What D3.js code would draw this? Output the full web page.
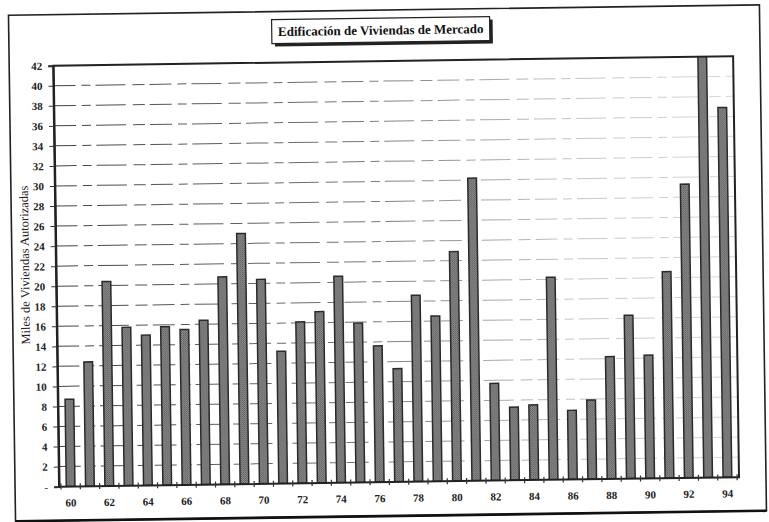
<!DOCTYPE html>
<html>
<head>
<meta charset="utf-8">
<script src="https://cdn.jsdelivr.net/npm/d3@7"></script>
<style>
  html, body { margin: 0; padding: 0; background: #fff; }
  svg { display: block; }
</style>
</head>
<body>
<svg id="chart" width="769" height="522"></svg>
<script>
// Años (dos dígitos) y miles de viviendas autorizadas
const years = ["60","61","62","63","64","65","66","67","68","69",
               "70","71","72","73","74","75","76","77","78","79",
               "80","81","82","83","84","85","86","87","88","89",
               "90","91","92","93","94"];
const viviendas = [8.7, 12.4, 20.4, 15.8, 15.0, 15.8, 15.5, 16.4, 20.7, 25.0,
                   20.4, 13.2, 16.1, 17.1, 20.6, 15.9, 13.6, 11.3, 18.6, 16.5,
                   22.9, 30.2, 9.7, 7.3, 7.5, 20.2, 6.9, 7.9, 12.2, 16.3,
                   12.3, 20.6, 29.3, 44.0, 36.9];
const yTicks = [0,2,4,6,8,10,12,14,16,18,20,22,24,26,28,30,32,34,36,38,40,42];
const xLabelYears = ["60","62","64","66","68","70","72","74","76","78",
                     "80","82","84","86","88","90","92","94"];
const title = "Edificación de Viviendas de Mercado";
const yTitle = "Miles de Viviendas Autorizadas";

const svg = d3.select("#chart");
const defs = svg.append("defs");

const plot = { left: 56, right: 736, top: 61, bottom: 482 };

// halftone fill for the bars
const pat = defs.append("pattern").attr("id", "trama")
  .attr("width", 2).attr("height", 2).attr("patternUnits", "userSpaceOnUse");
pat.append("rect").attr("width", 2).attr("height", 2).attr("fill", "#8c8c8c");
pat.append("rect").attr("width", 1).attr("height", 1).attr("fill", "#5e5e5e");
pat.append("rect").attr("x", 1).attr("y", 1).attr("width", 1).attr("height", 1).attr("fill", "#6c6c6c");

// gridlines print darker on the left, fading to the right
const grad = defs.append("linearGradient").attr("id", "gridFade")
  .attr("gradientUnits", "userSpaceOnUse")
  .attr("x1", plot.left).attr("x2", plot.right).attr("y1", 0).attr("y2", 0);
grad.append("stop").attr("offset", "0%").attr("stop-color", "#444");
grad.append("stop").attr("offset", "45%").attr("stop-color", "#777");
grad.append("stop").attr("offset", "75%").attr("stop-color", "#c4c4c4");
grad.append("stop").attr("offset", "100%").attr("stop-color", "#d8d8d8");

defs.append("clipPath").attr("id", "plotClip")
  .append("rect")
  .attr("x", plot.left).attr("y", plot.top)
  .attr("width", plot.right - plot.left).attr("height", plot.bottom - plot.top);

// whole page sits slightly tilted
const page = svg.append("g").attr("transform", "rotate(-0.8, 390, 265)");

// page frame
page.append("rect")
  .attr("x", 12).attr("y", 10).attr("width", 751).attr("height", 506)
  .attr("fill", "none").attr("stroke", "#222").attr("stroke-width", 1.6);
page.append("line")
  .attr("x1", 12).attr("x2", 763).attr("y1", 516).attr("y2", 516)
  .attr("stroke", "#111").attr("stroke-width", 2.6);

const x = d3.scaleBand()
  .domain(years)
  .range([plot.left + 2, plot.right - 2])
  .paddingInner(0.55)
  .paddingOuter(0.27);

const y = d3.scaleLinear()
  .domain([0, 42])
  .range([plot.bottom, plot.top]);

// gridlines
page.append("g")
  .selectAll("line")
  .data(yTicks.filter(d => d > 0 && d < 42))
  .join("line")
  .attr("x1", plot.left).attr("x2", plot.right)
  .attr("y1", d => y(d)).attr("y2", d => y(d))
  .attr("stroke", "url(#gridFade)")
  .attr("stroke-width", 1)
  .attr("stroke-dasharray", "22,6,9,5,30,7,12,5");

// bars
page.append("g")
  .attr("clip-path", "url(#plotClip)")
  .selectAll("rect")
  .data(years.map((yr, i) => ({ yr, v: viviendas[i] })))
  .join("rect")
  .attr("x", d => x(d.yr))
  .attr("width", x.bandwidth())
  .attr("y", d => y(d.v))
  .attr("height", d => y(0) - y(d.v))
  .attr("fill", "url(#trama)")
  .attr("stroke", "#2a2a2a")
  .attr("stroke-width", 1.5);

// plot border
page.append("rect")
  .attr("x", plot.left).attr("y", plot.top)
  .attr("width", plot.right - plot.left).attr("height", plot.bottom - plot.top)
  .attr("fill", "none").attr("stroke", "#222").attr("stroke-width", 2);

// y axis
const yAxis = d3.axisLeft(y)
  .tickValues(yTicks)
  .tickSize(5)
  .tickPadding(6)
  .tickFormat(d => d === 0 ? "-" : d);
const gy = page.append("g")
  .attr("transform", `translate(${plot.left},0)`)
  .call(yAxis);
gy.select(".domain").attr("stroke", "#222").attr("stroke-width", 2);
gy.selectAll(".tick line").attr("stroke", "#333");
gy.selectAll(".tick text")
  .attr("font-family", "'Liberation Serif', 'Times New Roman', serif")
  .attr("font-weight", "bold")
  .attr("font-size", 11)
  .attr("fill", "#222");

// x axis: crossing ticks at the category boundaries
const boundaries = years.map(yr => x(yr) - x.step() * x.paddingInner() / 2);
boundaries.push(x(years[years.length - 1]) + x.bandwidth() + x.step() * x.paddingInner() / 2);
page.append("g")
  .selectAll("line")
  .data(boundaries)
  .join("line")
  .attr("x1", d => d).attr("x2", d => d)
  .attr("y1", plot.bottom - 3).attr("y2", plot.bottom + 3)
  .attr("stroke", "#333").attr("stroke-width", 1.2);

page.append("g")
  .selectAll("text")
  .data(xLabelYears)
  .join("text")
  .attr("x", d => x(d) + x.bandwidth() / 2)
  .attr("y", plot.bottom + 20)
  .attr("text-anchor", "middle")
  .attr("font-family", "'Liberation Serif', 'Times New Roman', serif")
  .attr("font-weight", "bold")
  .attr("font-size", 11)
  .attr("fill", "#222")
  .text(d => d);

// y axis title
page.append("text")
  .attr("transform", "translate(29, 260) rotate(-90)")
  .attr("text-anchor", "middle")
  .attr("font-family", "'Liberation Serif', 'Times New Roman', serif")
  .attr("font-size", 12.5)
  .attr("fill", "#222")
  .text(yTitle);

// title box with drop shadow
const tb = { x: 275, y: 18, w: 218, h: 24 };
page.append("rect")
  .attr("x", tb.x + 3).attr("y", tb.y + 3).attr("width", tb.w).attr("height", tb.h)
  .attr("fill", "#222");
page.append("rect")
  .attr("x", tb.x).attr("y", tb.y).attr("width", tb.w).attr("height", tb.h)
  .attr("fill", "#fff").attr("stroke", "#222").attr("stroke-width", 1.2);
page.append("text")
  .attr("x", tb.x + tb.w / 2).attr("y", tb.y + tb.h / 2 + 4.5)
  .attr("text-anchor", "middle")
  .attr("font-family", "'Liberation Serif', 'Times New Roman', serif")
  .attr("font-weight", "bold")
  .attr("font-size", 13)
  .attr("fill", "#111")
  .text(title);
</script>
</body>
</html>
